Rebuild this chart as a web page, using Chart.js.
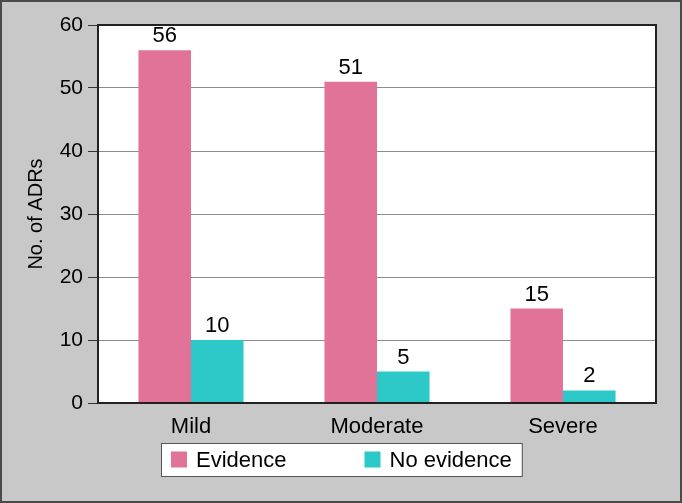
<!DOCTYPE html>
<html>
<head>
<meta charset="utf-8">
<script src="https://cdn.jsdelivr.net/npm/chart.js@4"></script>
<style>
  html, body { margin: 0; padding: 0; background: #c8c8c8; }
  #wrap { width: 682px; height: 503px; }
</style>
</head>
<body>
<div id="wrap"><canvas id="adrChart" width="682" height="503"></canvas></div>
<script>
// ===============================================
// Data
// ===============================================
const categories = ['Mild', 'Moderate', 'Severe'];
const evidenceValues = [56, 51, 15];
const noEvidenceValues = [10, 5, 2];
const yTicks = [0, 10, 20, 30, 40, 50, 60];

const FONT = "'Liberation Sans', Arial, sans-serif";
const PINK = '#e17399';
const TEAL = '#2cc9c8';

// ===============================================
// Plugins: frame, plot background, value labels, legend box
// ===============================================
const framePlugin = {
    id: 'frame',
    beforeDraw(chart) {
        const c = chart.ctx;
        const a = chart.chartArea;
        c.save();
        c.fillStyle = '#c8c8c8';
        c.fillRect(0, 0, chart.width, chart.height);
        c.strokeStyle = '#4a4a4a';
        c.lineWidth = 2;
        c.strokeRect(1, 1, chart.width - 2, chart.height - 2);
        c.fillStyle = '#ffffff';
        c.fillRect(a.left, a.top, a.right - a.left, a.bottom - a.top);
        c.restore();
    },
    afterDraw(chart) {
        const c = chart.ctx;
        const a = chart.chartArea;
        c.save();
        c.strokeStyle = '#222';
        c.lineWidth = 2;
        c.strokeRect(a.left, a.top, a.right - a.left, a.bottom - a.top);
        c.restore();
    }
};

const valueLabels = {
    id: 'valueLabels',
    afterDatasetsDraw(chart) {
        const c = chart.ctx;
        c.save();
        c.font = '22px ' + FONT;
        c.fillStyle = '#000';
        c.textAlign = 'center';
        c.textBaseline = 'alphabetic';
        chart.data.datasets.forEach((ds, i) => {
            chart.getDatasetMeta(i).data.forEach((bar, j) => {
                c.fillText(ds.data[j], bar.x, bar.y - 8);
            });
        });
        c.restore();
    }
};

const legendBox = {
    id: 'legendBox',
    afterDraw(chart) {
        const c = chart.ctx;
        const ds = chart.data.datasets;
        c.save();
        c.font = '22px ' + FONT;
        const sq = 16, gapText = 9, gapItem = 78, padX = 10;
        const widths = ds.map(d => c.measureText(d.label).width);
        let total = padX * 2;
        widths.forEach((w, i) => { total += sq + gapText + w + (i < ds.length - 1 ? gapItem : 0); });
        const left = Math.round((chart.width - total) / 2);
        const top = 443, h = 33;
        c.fillStyle = '#fff';
        c.fillRect(left, top, total, h);
        c.strokeStyle = '#555';
        c.lineWidth = 1;
        c.strokeRect(left + 0.5, top + 0.5, total, h);
        let x = left + padX;
        const cy = top + h / 2;
        c.textBaseline = 'middle';
        ds.forEach((d, i) => {
            c.fillStyle = d.backgroundColor;
            c.fillRect(x, cy - sq / 2, sq, sq);
            c.fillStyle = '#000';
            c.fillText(d.label, x + sq + gapText, cy + 1);
            x += sq + gapText + widths[i] + gapItem;
        });
        c.restore();
    }
};

// ===============================================
// Chart
// ===============================================
const ctx = document.getElementById('adrChart').getContext('2d');
new Chart(ctx, {
    type: 'bar',
    data: {
        labels: categories,
        datasets: [
            { label: 'Evidence', data: evidenceValues, backgroundColor: PINK },
            { label: 'No evidence', data: noEvidenceValues, backgroundColor: TEAL }
        ]
    },
    options: {
        responsive: false,
        animation: false,
        devicePixelRatio: 1,
        layout: { padding: { top: 25, right: 26, left: 0, bottom: 0 } },
        datasets: { bar: { categoryPercentage: 0.565, barPercentage: 1.0 } },
        plugins: {
            legend: { display: false },
            tooltip: { enabled: false }
        },
        scales: {
            x: {
                grid: { display: false },
                border: { display: false },
                ticks: { color: '#000', font: { family: FONT, size: 22 }, padding: 3 },
                afterFit(scale) { scale.height = 100; }
            },
            y: {
                min: 0,
                max: 60,
                afterBuildTicks(scale) { scale.ticks = yTicks.map(v => ({ value: v })); },
                grid: { color: '#8c8c8c', lineWidth: 1, tickLength: 10, tickColor: '#333' },
                border: { display: false },
                ticks: { color: '#000', font: { family: FONT, size: 21 }, padding: 5 },
                title: { display: true, text: 'No. of ADRs', color: '#000', font: { family: FONT, size: 20 }, padding: { top: 24, bottom: 0 } },
                afterFit(scale) { scale.width = 98; }
            }
        }
    },
    plugins: [framePlugin, valueLabels, legendBox]
});
</script>
</body>
</html>
